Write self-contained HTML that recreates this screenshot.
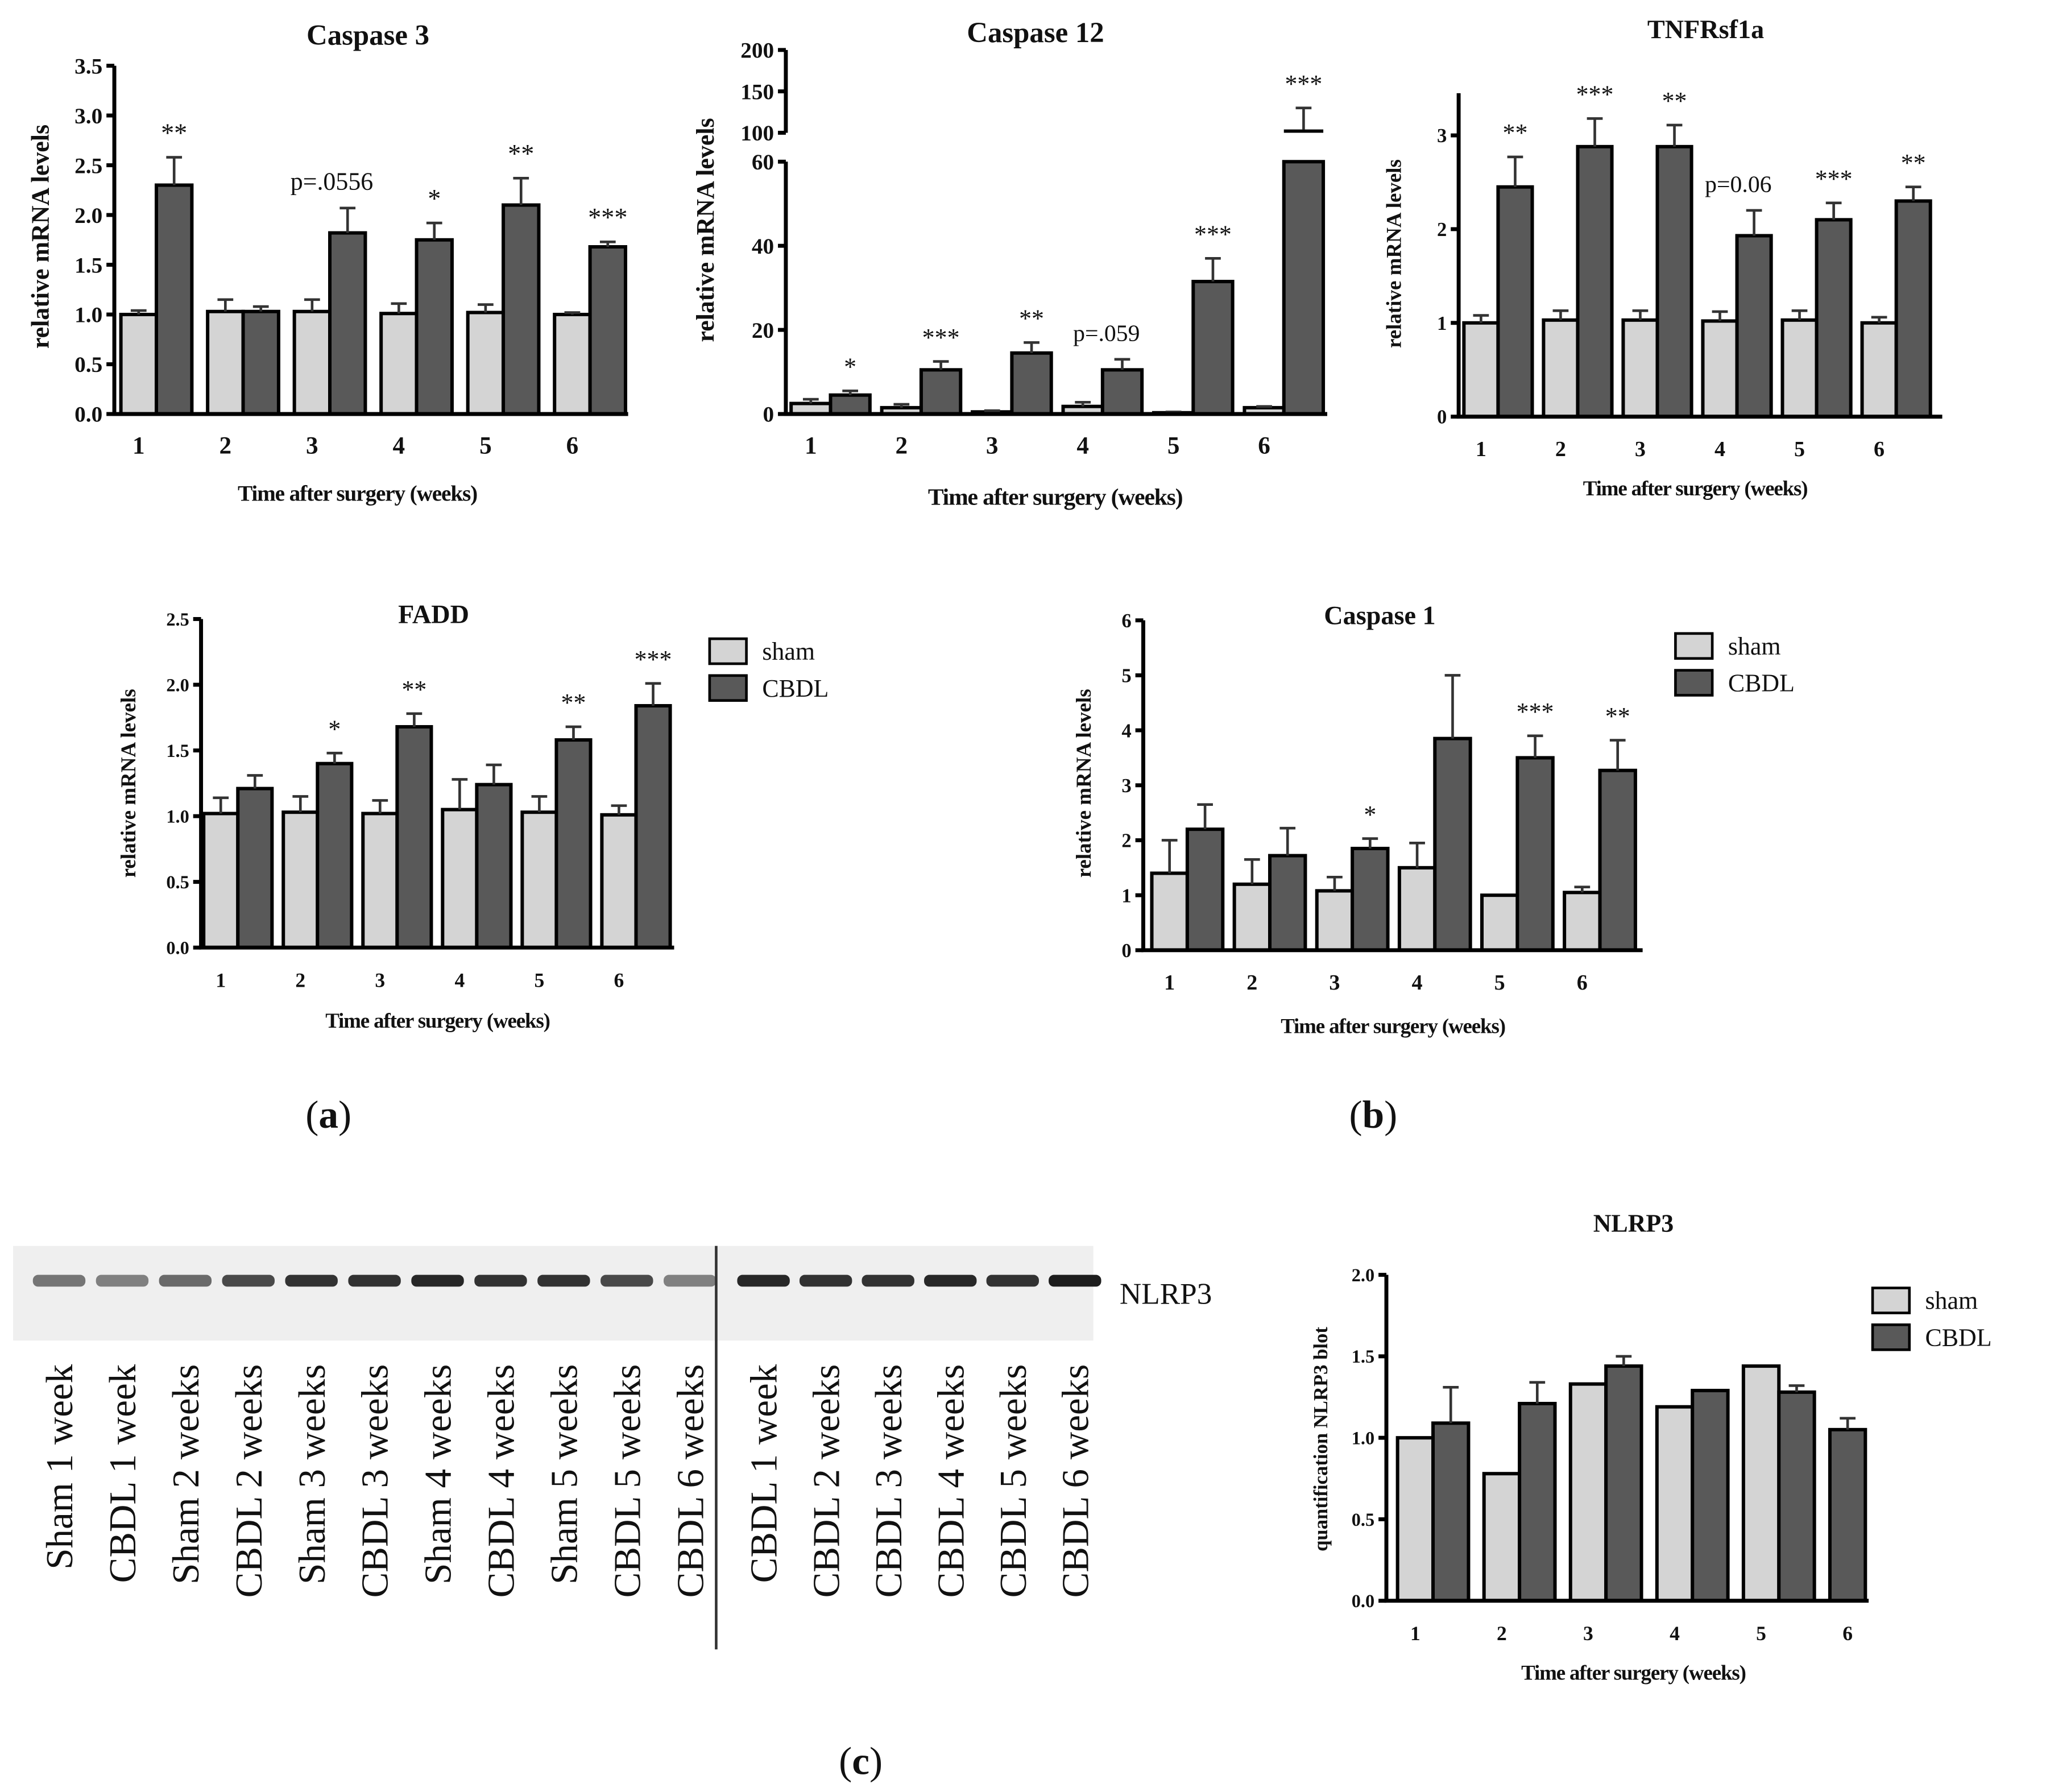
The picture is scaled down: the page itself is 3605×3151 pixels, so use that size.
<!DOCTYPE html>
<html><head><meta charset="utf-8">
<style>
html,body{margin:0;padding:0;background:#fff;}
svg{display:block;}
text{font-family:"Liberation Serif",serif;fill:#111;}
</style></head>
<body>
<svg id="fig" width="3605" height="3151" viewBox="0 0 1560 1363.5" xmlns="http://www.w3.org/2000/svg">
<rect width="1560" height="1363.5" fill="#fff"/>
<text x="250" y="858" font-size="30" text-anchor="middle">(<tspan font-weight="bold">a</tspan>)</text>
<text x="1045" y="858" font-size="30" text-anchor="middle">(<tspan font-weight="bold">b</tspan>)</text>
<text x="655" y="1350" font-size="30" text-anchor="middle">(<tspan font-weight="bold">c</tspan>)</text>
<g id="blot"></g>
<text x="852" y="992" font-size="23">NLRP3</text>
</svg>
<script>
const NS="http://www.w3.org/2000/svg";
const svg=document.getElementById('fig');
function mk(tag,attrs,parent){const e=document.createElementNS(NS,tag);for(const k in attrs)e.setAttribute(k,attrs[k]);(parent||svg).appendChild(e);return e;}

// ---- data ----
const weeks=["1","2","3","4","5","6"];
const c3Sham=[1.0,1.03,1.03,1.01,1.02,1.0];
const c3ShamErr=[0.04,0.12,0.12,0.1,0.08,0.02];
const c3Cbdl=[2.3,1.03,1.82,1.75,2.1,1.68];
const c3CbdlErr=[0.28,0.05,0.25,0.17,0.27,0.05];
const c3Sig=["**","","p=.0556","*","**","***"];
const c3Ticks=["0.0","0.5","1.0","1.5","2.0","2.5","3.0","3.5"];

const c12Sham=[2.5,1.5,0.5,1.8,0.3,1.5];
const c12ShamErr=[1,0.8,0.3,1,0.2,0.3];
const c12Cbdl=[4.5,10.5,14.5,10.5,31.5,104];
const c12CbdlErr=[1,2,2.5,2.5,5.5,26];
const c12Sig=["*","***","**","p=.059","***","***"];
const c12TicksLow=["0","20","40","60"];
const c12TicksHigh=["100","150","200"];

const tnShamV=[1.0,1.03,1.03,1.02,1.03,1.0];
const tnShamErr=[0.08,0.1,0.1,0.1,0.1,0.06];
const tnCbdl=[2.45,2.88,2.88,1.93,2.1,2.3];
const tnCbdlErr=[0.32,0.3,0.23,0.27,0.18,0.15];
const tnSig=["**","***","**","p=0.06","***","**"];
const tnTicks=["0","1","2","3"];

const faSham=[1.02,1.03,1.02,1.05,1.03,1.01];
const faShamErr=[0.12,0.12,0.1,0.23,0.12,0.07];
const faCbdl=[1.21,1.4,1.68,1.24,1.58,1.84];
const faCbdlErr=[0.1,0.08,0.1,0.15,0.1,0.17];
const faSig=["","*","**","","**","***"];
const faTicks=["0.0","0.5","1.0","1.5","2.0","2.5"];

const c1Sham=[1.4,1.2,1.08,1.5,1.0,1.05];
const c1ShamErr=[0.6,0.45,0.25,0.45,0,0.1];
const c1Cbdl=[2.2,1.72,1.85,3.85,3.5,3.27];
const c1CbdlErr=[0.45,0.5,0.18,1.15,0.4,0.55];
const c1Sig=["","","*","","***","**"];
const c1Ticks=["0","1","2","3","4","5","6"];

const nlSham=[1.0,0.78,1.33,1.19,1.44,0];
const nlShamErr=[0,0,0,0,0,0];
const nlCbdl=[1.09,1.21,1.44,1.29,1.28,1.05];
const nlCbdlErr=[0.22,0.13,0.06,0,0.04,0.07];
const nlSig=["","","","","",""];
const nlTicks=["0.0","0.5","1.0","1.5","2.0"];

const blotLanes=["Sham 1 week","CBDL 1 week","Sham 2 weeks","CBDL 2 weeks","Sham 3 weeks","CBDL 3 weeks","Sham 4 weeks","CBDL 4 weeks","Sham 5 weeks","CBDL 5 weeks","CBDL 6 weeks","CBDL 1 week","CBDL 2 weeks","CBDL 3 weeks","CBDL 4 weeks","CBDL 5 weeks","CBDL 6 weeks"];
const blotIntensity=[0.55,0.5,0.6,0.75,0.85,0.85,0.9,0.85,0.85,0.75,0.5,0.9,0.85,0.85,0.9,0.85,0.95];

function chart(o){
  const g=mk('g',{});
  
  
  const y=o.y;
  const bw=o.bw;
  const sets=[[o.sham,o.shamErr,'#d4d4d4',0],[o.cbdl,o.cbdlErr,'#595959',1]];
  sets.forEach(([vals,errs,col,k])=>{
    vals.forEach((v,i)=>{
      if(v<=0)return;
      const slot=(o.soloIdx&&k===1&&o.sham[i]<=0)?0:k;
      const cx=o.x0+i*o.gap+slot*bw;
      const x=cx-bw/2;
      const top=y(v);
      if(o.breakAt&&v>o.breakAt){
        const r=mk('rect',{x:x,y:y(o.breakAt),width:bw,height:o.y0-y(o.breakAt),fill:col,stroke:'#000','stroke-width':2.6},g);
        
        
        const r2=mk('rect',{x:x,y:top,width:bw,height:Math.max(2,y(o.breakTop)-top),fill:'#000'},g);
        
        
      } else {
        const r=mk('rect',{x:x,y:top,width:bw,height:o.y0-top,fill:col,stroke:'#000','stroke-width':2.6},g);
        
        
      }
      const e=errs[i];
      if(e>0){
        const et=y(v+e);
        const ln=mk('path',{d:`M${cx} ${top}V${et}M${cx-6} ${et}H${cx+6}`,stroke:'#333','stroke-width':2,fill:'none'},g);
        
        
      }
    });
  });
  o.sig.forEach((s,i)=>{
    if(!s)return;
    const cx=o.x0+i*o.gap+bw;
    const v=o.cbdl[i]+o.cbdlErr[i];
    const t=mk('text',{x:s.startsWith('p')?cx-12:cx,y:y(v)-(s.startsWith('p')?14:12),'font-size':s.startsWith('p')?o.fs*0.95:o.fs,'text-anchor':'middle'},g);
    t.textContent=s;
    
    
  });
  const ax=mk('path',{d:o.axisPath||`M${o.ax} ${y(o.ymax)}V${o.y0}H${o.axEnd}`,stroke:'#000','stroke-width':3,fill:'none'},g);
  
  
  o.ticks.forEach((lab,i)=>{
    const v=o.tickVals?o.tickVals[i]:parseFloat(lab);
    const ty=y(v);
    mk('line',{x1:o.ax-6,x2:o.ax,y1:ty,y2:ty,stroke:'#000','stroke-width':3},g);
    const t=mk('text',{x:o.ax-9,y:ty+o.tfs*0.35,'font-size':o.tfs,'text-anchor':'end','font-weight':'bold'},g);
    t.textContent=lab;
    
    
  });
  weeks.forEach((w,i)=>{
    const t=mk('text',{x:o.x0+i*o.gap,y:o.y0+30,'font-size':o.tfs*1.1,'text-anchor':'middle','font-weight':'bold'},g);
    t.textContent=w;
    
    
  });
  const tt=mk('text',{x:o.titleX,y:o.titleY,'font-size':o.titleFs,'text-anchor':'middle','font-weight':'bold'},g);
  tt.textContent=o.title;
  
  
  const xt=mk('text',{x:o.xtX,y:o.xtY,'font-size':o.xtFs,'text-anchor':'middle','font-weight':'bold','letter-spacing':'-0.5'},g);
  xt.textContent='Time after surgery (weeks)';
  
  
  const yt=mk('text',{x:0,y:0,'font-size':o.ytFs,'text-anchor':'middle','font-weight':'bold',transform:`translate(${o.ytX},${o.ytY}) rotate(-90)`},g);
  yt.textContent=o.ytitle||'relative mRNA levels';
  
  
  if(o.legend){
    const [lx,ly]=o.legend;
    [['sham','#d4d4d4'],['CBDL','#595959']].forEach(([n,c],k)=>{
      const r=mk('rect',{x:lx,y:ly+k*28,width:28,height:19,fill:c,stroke:'#000','stroke-width':2},g);
      
      
      const t=mk('text',{x:lx+40,y:ly+k*28+16,'font-size':19},g);
      t.textContent=n;
      
      
    });
  }
}
function lin(y0,ytop,vmax){return v=>y0-(y0-ytop)*v/vmax;}

chart({name:'caspase3-chart',sham:c3Sham,shamErr:c3ShamErr,cbdl:c3Cbdl,cbdlErr:c3CbdlErr,sig:c3Sig,ticks:c3Ticks,
  y:lin(315,50,3.5),y0:315,ymax:3.5,x0:105.5,gap:66,bw:27,ax:87,axEnd:478,fs:20,tfs:17,
  title:'Caspase 3',titleX:280,titleY:34,titleFs:22,xtX:272,xtY:381,xtFs:17,ytX:37,ytY:180,ytFs:19});

const c12y=v=> v<=60 ? 315-(315-123)*v/60 : 101-(101-38)*(v-100)/100;
chart({name:'caspase12-chart',sham:c12Sham,shamErr:c12ShamErr,cbdl:c12Cbdl,cbdlErr:c12CbdlErr,sig:c12Sig,
  ticks:c12TicksLow.concat(c12TicksHigh),tickVals:[0,20,40,60,100,150,200],
  y:c12y,y0:315,ymax:60,breakAt:60,breakTop:100,x0:617,gap:69,bw:30,ax:598,axEnd:1010,fs:19,tfs:17,
  axisPath:'M598 38V101M598 123V315H1010',
  title:'Caspase 12',titleX:788,titleY:32,titleFs:22,xtX:803,xtY:384,xtFs:18,ytX:543,ytY:175,ytFs:19});

chart({name:'tnfrsf1a-chart',sham:tnShamV,shamErr:tnShamErr,cbdl:tnCbdl,cbdlErr:tnCbdlErr,sig:tnSig,ticks:tnTicks,
  y:lin(317,103,3),y0:317,ymax:3.45,x0:1127,gap:60.6,bw:26,ax:1110,axEnd:1478,fs:19,tfs:15,
  title:'TNFRsf1a',titleX:1298,titleY:29,titleFs:20,xtX:1290,xtY:377,xtFs:16,ytX:1066,ytY:193,ytFs:16});

chart({name:'fadd-chart',sham:faSham,shamErr:faShamErr,cbdl:faCbdl,cbdlErr:faCbdlErr,sig:faSig,ticks:faTicks,
  y:lin(721,471,2.5),y0:721,ymax:2.5,x0:168,gap:60.6,bw:26,ax:153,axEnd:513,fs:19,tfs:14,
  title:'FADD',titleX:330,titleY:474,titleFs:20,xtX:333,xtY:782,xtFs:16,ytX:103,ytY:596,ytFs:16,legend:[540,486]});

chart({name:'caspase1-chart',sham:c1Sham,shamErr:c1ShamErr,cbdl:c1Cbdl,cbdlErr:c1CbdlErr,sig:c1Sig,ticks:c1Ticks,
  y:lin(723,472,6),y0:723,ymax:6,x0:890,gap:62.8,bw:27,ax:870,axEnd:1250,fs:19,tfs:15,
  title:'Caspase 1',titleX:1050,titleY:475,titleFs:20,xtX:1060,xtY:786,xtFs:16,ytX:830,ytY:596,ytFs:16,legend:[1275,482]});

chart({name:'nlrp3-chart',sham:nlSham,shamErr:nlShamErr,cbdl:nlCbdl,cbdlErr:nlCbdlErr,sig:nlSig,ticks:nlTicks,soloIdx:true,
  y:lin(1218,970,2),y0:1218,ymax:2,x0:1077,gap:65.8,bw:27,ax:1055,axEnd:1422,fs:19,tfs:14,
  title:'NLRP3',titleX:1243,titleY:937,titleFs:19,xtX:1243,xtY:1278,xtFs:16,ytX:1010,ytY:1095,ytFs:15,
  ytitle:'quantification NLRP3 blot',legend:[1425,980]});

const blot=document.getElementById('blot');
mk('rect',{x:10,y:948,width:822,height:72,fill:'#efefef'},blot);
blotLanes.forEach((lab,i)=>{
  const cx=i<11?45+i*48:581+(i-11)*47.4;
  const b=mk('rect',{x:cx-20,y:970,width:40,height:9,rx:4,fill:'#111','fill-opacity':blotIntensity[i]},blot);
  
  
  const t=mk('text',{x:0,y:0,'font-size':29,'text-anchor':'end',transform:`translate(${cx+10},1038) rotate(-90)`},blot);
  t.textContent=lab;
  
  
});
const dv=mk('line',{x1:545,x2:545,y1:948,y2:1255,stroke:'#333','stroke-width':2},blot);


</script>
</body></html>
